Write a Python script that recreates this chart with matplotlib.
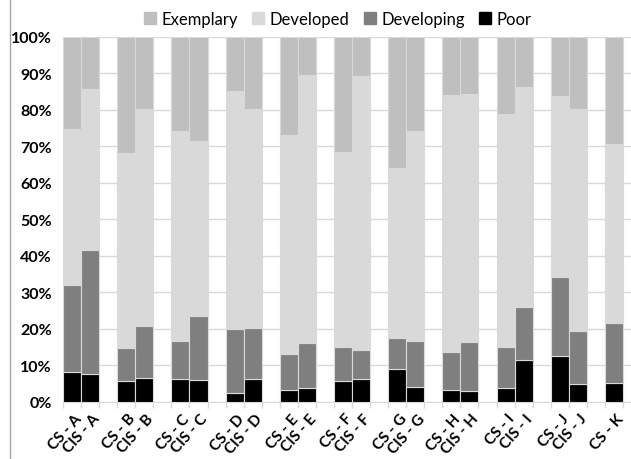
import numpy as np
import matplotlib
matplotlib.use("Agg")
import matplotlib.pyplot as plt
import matplotlib.transforms as mtransforms
from matplotlib.lines import Line2D

plt.rcParams['font.family'] = ['Lato', 'DejaVu Sans']

# one entry per slot, '' marks the empty slot between groups
labels = ['CS - A', 'CIS - A', '', 'CS - B', 'CIS - B', '', 'CS - C', 'CIS - C', '',
          'CS - D', 'CIS - D', '', 'CS - E', 'CIS - E', '', 'CS - F', 'CIS - F', '',
          'CS - G', 'CIS - G', '', 'CS - H', 'CIS - H', '', 'CS - I', 'CIS - I', '',
          'CS - J', 'CIS - J', '', 'CS - K', '']

# cumulative tops (%), None for empty slots
poor_top = [8.2, 7.6, None, 5.7, 6.6, None, 6.2, 5.9, None, 2.4, 6.2, None,
            3.2, 3.9, None, 5.7, 6.3, None, 8.9, 4.2, None, 3.4, 3.0, None,
            3.7, 11.4, None, 12.7, 4.8, None, 5.3, None]
developing_top = [32.1, 41.5, None, 14.9, 20.7, None, 16.8, 23.4, None, 20.1, 20.3, None,
                  13.1, 16.1, None, 15.1, 14.3, None, 17.6, 16.8, None, 13.8, 16.3, None,
                  15.1, 26.1, None, 34.1, 19.4, None, 21.5, None]
developed_top = [74.8, 85.5, None, 68.2, 80.3, None, 74.2, 71.4, None, 85.2, 80.3, None,
                 73.0, 89.6, None, 68.3, 89.3, None, 64.1, 74.2, None, 84.0, 84.4, None,
                 78.9, 86.3, None, 83.7, 80.1, None, 70.7, None]

series = ['Exemplary', 'Developed', 'Developing', 'Poor']
colors = {'Exemplary': '#bfbfbf', 'Developed': '#d9d9d9',
          'Developing': '#7f7f7f', 'Poor': '#000000'}

idx = [i for i, v in enumerate(poor_top) if v is not None]
p = np.array([poor_top[i] for i in idx])
dv = np.array([developing_top[i] for i in idx])
dd = np.array([developed_top[i] for i in idx])
x = np.array(idx) + 0.5

fig = plt.figure(figsize=(6.31, 4.60), dpi=100)
ax = fig.add_axes([63 / 631, 57 / 460, 578 / 631, 365.5 / 460])

edge = '#d9d9d9'
kw = dict(width=1.0, edgecolor=edge, linewidth=0.8, zorder=3)
ax.bar(x, p, color=colors['Poor'], **kw)
ax.bar(x, dv - p, bottom=p, color=colors['Developing'], **kw)
ax.bar(x, dd - dv, bottom=dv, color=colors['Developed'], **kw)
ax.bar(x, 100 - dd, bottom=dd, color=colors['Exemplary'], **kw)

ax.set_xlim(0, len(labels))
ax.set_ylim(0, 100)
ax.set_yticks(np.arange(0, 101, 10))
ax.set_yticklabels([f'{v}%' for v in range(0, 101, 10)], fontsize=11.5, fontweight='bold')
ax.yaxis.grid(True, color='#d9d9d9', linewidth=1, zorder=0)
ax.set_axisbelow(True)
ax.tick_params(axis='y', length=0, pad=8)

# ticks at slot boundaries, labels at bar centres
ax.set_xticks(np.arange(0, len(labels) + 1), minor=False)
ax.set_xticklabels([])
ax.tick_params(axis='x', which='major', length=4, color='#d9d9d9', width=1)
ax.set_xticks(x, minor=True)
ax.set_xticklabels([labels[i] for i in idx], minor=True, rotation=48,
                   ha='right', va='center', rotation_mode='anchor',
                   fontsize=11, fontweight='bold')
ax.tick_params(axis='x', which='minor', length=0, pad=10)
shift = mtransforms.ScaledTranslation(7 / 100, 0, fig.dpi_scale_trans)
for lab in ax.get_xticklabels(minor=True):
    lab.set_transform(lab.get_transform() + shift)

for s in ['top', 'right', 'left']:
    ax.spines[s].set_visible(False)
ax.spines['bottom'].set_color('#d9d9d9')

handles = [Line2D([], [], marker='s', linestyle='none', markersize=8,
                  markerfacecolor=colors[s], markeredgecolor=colors[s]) for s in series]
fig.legend(handles, series, loc='center', bbox_to_anchor=(0.532, 0.957), ncol=4,
           frameon=False, fontsize=12, handletextpad=0.1, columnspacing=0.6,
           handlelength=1.2)

fig.add_artist(Line2D([10 / 631, 10 / 631], [0, 1], color='#a6a6a6', linewidth=1))

fig.savefig('out.png', dpi=100)
